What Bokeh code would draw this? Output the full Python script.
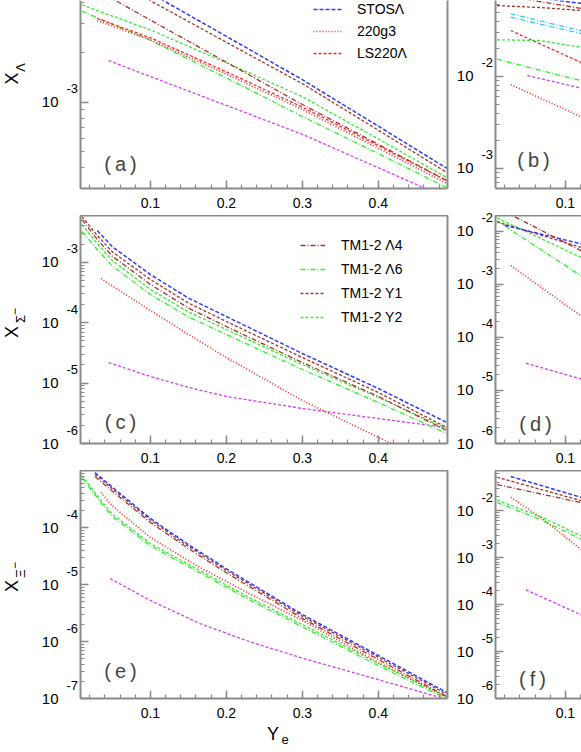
import math
from bokeh.plotting import figure
from bokeh.models import FixedTicker, LinearAxis, Label, Legend, LegendItem, Range1d
from bokeh.core.properties import value
from bokeh.layouts import column, row
from bokeh.embed import file_html
from bokeh.resources import INLINE

# ---------------- data ----------------
X_TICKS = [0.1, 0.2, 0.3, 0.4]
X_MINOR = [round(0.02 * i, 2) for i in range(1, 25)]
Y_MINOR = [m * 10.0 ** e for e in range(-8, 0) for m in range(2, 10)]
Y_TICK_BASE = "10"

A_YTICKS = [1e-3]
B_YTICKS = [1e-3, 1e-2]
C_YTICKS = [1e-6, 1e-5, 1e-4, 1e-3]
D_YTICKS = [1e-6, 1e-5, 1e-4, 1e-3, 1e-2]
E_YTICKS = [1e-7, 1e-6, 1e-5, 1e-4]
F_YTICKS = [1e-6, 1e-5, 1e-4, 1e-3, 1e-2]

# panel (a)  X_Lambda
A_YE_30 = [0.03, 0.1, 0.2, 0.3, 0.4, 0.49]
A_YE_10 = [0.01, 0.1, 0.2, 0.3, 0.4, 0.49]
A_YE_45 = [0.045, 0.1, 0.2, 0.3, 0.4, 0.49]
A_BLUE = [6.8e-3, 4.58e-3, 2.51e-3, 1.37e-3, 7.16e-4, 3.98e-4]
A_Y1 = [6.87e-3, 4.13e-3, 2.31e-3, 1.296e-3, 6.77e-4, 3.75e-4]
A_L4 = [5.38e-3, 3.15e-3, 1.747e-3, 9.69e-4, 5.56e-4, 3.35e-4]
A_Y2 = [3.89e-3, 2.746e-3, 1.736e-3, 1.082e-3, 5.99e-4, 3.50e-4]
A_L6 = [3.56e-3, 2.376e-3, 1.404e-3, 8.20e-4, 4.88e-4, 3.04e-4]
A_G3 = [3.13e-3, 2.39e-3, 1.481e-3, 9.04e-4, 5.26e-4, 3.22e-4]
A_LS = [3.22e-3, 2.46e-3, 1.53e-3, 9.35e-4, 5.45e-4, 3.35e-4]
A_MAG = [1.79e-3, 1.432e-3, 9.57e-4, 6.39e-4, 4.01e-4, 2.63e-4]

# panel (b)
B_BLUE_YE = [0.03, 0.09, 0.125]
B_BLUE = [0.0773, 0.0670, 0.0618]
B_L4_YE = [0.01, 0.058, 0.125]
B_L4 = [0.0780, 0.0670, 0.0542]
B_Y1_YE = [0.01, 0.067, 0.125]
B_Y1 = [0.0590, 0.0562, 0.0519]
B_CY_YE = [0.028, 0.125]
B_CY1 = [0.0480, 0.0309]
B_CY2 = [0.0441, 0.0287]
B_LS_YE = [0.028, 0.125]
B_LS = [0.0316, 0.01368]
B_Y2_YE = [0.01, 0.067, 0.125]
B_Y2 = [0.0251, 0.0246, 0.0205]
B_L6_YE = [0.01, 0.125]
B_L6 = [0.01543, 0.00882]
B_MAG_YE = [0.05, 0.125]
B_MAG = [0.01025, 0.00733]
B_G3_YE = [0.028, 0.125]
B_G3 = [0.00818, 0.00351]

# panel (c)  X_Sigma-
C_YE = [0.01, 0.03, 0.05, 0.1, 0.15, 0.2, 0.3, 0.4, 0.49]
C_Y1 = [5.73e-3, 2.78e-3, 1.49e-3, 5.19e-4, 2.12e-4, 1.047e-4, 2.65e-5, 6.99e-6, 1.84e-6]
C_L4 = [5.11e-3, 2.385e-3, 1.26e-3, 4.29e-4, 1.75e-4, 8.65e-5, 2.19e-5, 6.00e-6, 1.64e-6]
C_Y2 = [4.22e-3, 2.048e-3, 1.07e-3, 3.55e-4, 1.51e-4, 7.72e-5, 2.03e-5, 5.78e-6, 1.77e-6]
C_L6 = [3.24e-3, 1.628e-3, 8.63e-4, 2.93e-4, 1.247e-4, 6.38e-5, 1.68e-5, 4.77e-6, 1.46e-6]
C_BLUE_YE = [0.03, 0.05, 0.1, 0.15, 0.2, 0.3, 0.4, 0.49]
C_BLUE = [3.36e-3, 1.81e-3, 6.28e-4, 2.56e-4, 1.266e-4, 3.09e-5, 8.14e-6, 2.23e-6]
C_G3_YE = [0.035, 0.05, 0.1, 0.15, 0.2, 0.3, 0.41, 0.49]
C_G3 = [5.39e-4, 4.06e-4, 1.59e-4, 6.41e-5, 2.65e-5, 5.15e-6, 1.1e-6, 4.0e-7]
C_MAG_YE = [0.045, 0.1, 0.15, 0.2, 0.3, 0.4, 0.49]
C_MAG = [2.19e-5, 1.286e-5, 8.49e-6, 6.00e-6, 3.80e-6, 2.59e-6, 1.84e-6]

# panel (d)
D_L4_YE = [0.01, 0.03, 0.125]
D_L4 = [0.0281, 0.0200, 0.00403]
D_Y2_YE = [0.01, 0.125]
D_Y2 = [0.0180, 0.00304]
D_BLUE_YE = [0.02, 0.125]
D_BLUE = [0.0131, 0.00563]
D_Y1_YE = [0.01, 0.125]
D_Y1 = [0.0152, 0.0048]
D_L6_YE = [0.01, 0.125]
D_L6 = [0.0159, 0.00132]
D_G3_YE = [0.028, 0.125]
D_G3 = [0.00228, 2.30e-4]
D_MAG_YE = [0.048, 0.125]
D_MAG = [3.27e-5, 1.58e-5]

# panel (e)  X_Xi-
E_TOP_YE = [0.027, 0.05, 0.1, 0.15, 0.2, 0.3, 0.4, 0.49]
E_BLUE = [9.23e-4, 5.09e-4, 1.439e-4, 5.01e-5, 1.884e-5, 2.98e-6, 5.68e-7, 1.274e-7]
E_Y1 = [8.61e-4, 4.75e-4, 1.343e-4, 4.68e-5, 1.758e-5, 2.78e-6, 5.30e-7, 1.189e-7]
E_L4 = [7.85e-4, 4.34e-4, 1.225e-4, 4.27e-5, 1.603e-5, 2.54e-6, 4.83e-7, 1.084e-7]
E_G3_YE = [0.035, 0.05, 0.1, 0.165, 0.23, 0.3, 0.395, 0.49]
E_G3 = [4.11e-4, 2.38e-4, 6.68e-5, 1.99e-5, 6.95e-6, 2.34e-6, 4.64e-7, 1.04e-7]
E_GR_YE = [0.01, 0.035, 0.05, 0.1, 0.165, 0.23, 0.3, 0.395, 0.49]
E_Y2 = [8.15e-4, 2.98e-4, 1.71e-4, 5.24e-5, 1.76e-5, 5.92e-6, 1.99e-6, 4.46e-7, 1.08e-7]
E_L6 = [7.43e-4, 2.72e-4, 1.56e-4, 4.78e-5, 1.61e-5, 5.40e-6, 1.81e-6, 4.07e-7, 9.85e-8]
E_MAG_YE = [0.047, 0.1, 0.165, 0.23, 0.3, 0.395, 0.49]
E_MAG = [1.27e-5, 5.24e-6, 2.07e-6, 1.0e-6, 5.1e-7, 2.24e-7, 9.6e-8]

# panel (f)
F_BLUE_YE = [0.028, 0.125]
F_BLUE = [0.0529, 0.0182]
F_Y1_YE = [0.01, 0.125]
F_Y1 = [0.0511, 0.0155]
F_L4_YE = [0.01, 0.125]
F_L4 = [0.0357, 0.0142]
F_G3_YE = [0.028, 0.067, 0.125]
F_G3 = [0.0192, 0.0072, 0.00131]
F_GR_YE = [0.01, 0.067, 0.125]
F_Y2 = [0.0166, 0.00746, 0.00268]
F_L6 = [0.0148, 0.00643, 0.00228]
F_MAG_YE = [0.048, 0.125]
F_MAG = [2.055e-4, 5.6e-5]

# ---------------- styles ----------------
FONT = "Liberation Sans"
AXIS_COLOR = "#8a8a8a"
STYLES = {
    "blue": ("#2f3cff", "4 2", 1.5),
    "L4": ("#a8322d", "5 2 1 2", 1.3),
    "Y1": ("#a8322d", "3 2", 1.3),
    "L6": ("#2ef02e", "5 2 1 2", 1.3),
    "Y2": ("#2ef02e", "3 2", 1.3),
    "g3": ("#ff2626", "1 2", 1.7),
    "LS": ("#ff2626", "3 2", 1.3),
    "mag": ("#d43cf2", "3 2", 1.3),
    "cyan": ("#3cc8ff", "5 2 1 2", 1.3),
}

X_START = 0.008
X_END_LEFT = 0.491
X_END_RIGHT = 0.1212
HALF = math.pi / 2

# widths of the four columns and frame heights
LL_W, PL_W, RL_W, PR_W = 78, 373, 42, 88
FRAME_A, FRAME = 188, 228


def style_axis(ax, standoff, size):
    ax.axis_line_color = AXIS_COLOR
    ax.axis_line_width = 2
    ax.major_tick_line_color = AXIS_COLOR
    ax.minor_tick_line_color = AXIS_COLOR
    ax.major_tick_line_width = 1.5
    ax.minor_tick_line_width = 1.2
    ax.major_tick_in = 8
    ax.major_tick_out = 0
    ax.minor_tick_in = 4
    ax.minor_tick_out = 0
    ax.major_label_text_font = FONT
    ax.major_label_text_font_size = size
    ax.major_label_text_color = "black"
    ax.major_label_standoff = standoff


def edge(p, side):
    ax = LinearAxis(ticker=FixedTicker(ticks=[]), axis_line_color=AXIS_COLOR, axis_line_width=2,
                    major_tick_line_color=None, minor_tick_line_color=None,
                    major_label_text_font_size="10px", major_label_standoff=0,
                    major_tick_out=0, major_tick_in=0, minor_tick_out=0, minor_tick_in=0)
    p.add_layout(ax, side)


def panel(x_end, y_lo, y_hi, width, height, mbr, mbb, yticks):
    p = figure(width=width, height=height, x_range=Range1d(X_START, x_end),
               y_range=Range1d(y_lo, y_hi), y_axis_type="log", output_backend="svg",
               toolbar_location=None, min_border_left=2, min_border_right=mbr,
               min_border_top=0, min_border_bottom=mbb, outline_line_color=None,
               background_fill_color="white", border_fill_color="white")
    p.grid.visible = False
    xa = p.xaxis[0]
    ya = p.yaxis[0]
    xa.ticker = FixedTicker(ticks=X_TICKS, minor_ticks=X_MINOR)
    ya.ticker = FixedTicker(ticks=yticks, minor_ticks=Y_MINOR)
    style_axis(xa, 9, "14px")
    style_axis(ya, 0, "10px")
    # the y tick labels are drawn in the strip beside the panel (same scale)
    ya.major_label_overrides = {t: "" for t in yticks}
    return p


def label_fig(width, height, y_lo, y_hi, frame_h, top_ext, bot_ext, yticks, x_base, x_exp):
    """Strip left of a panel that shares the panel's log scale (extended by a few pixels),
    carrying the y tick labels of that panel as text."""
    per_px = (math.log10(y_hi) - math.log10(y_lo)) / frame_h
    y0 = 10 ** (math.log10(y_lo) - bot_ext * per_px)
    y1 = 10 ** (math.log10(y_hi) + top_ext * per_px)
    p = figure(width=width, height=height, x_range=Range1d(0, width), y_range=Range1d(y0, y1),
               y_axis_type="log", x_axis_location=None, y_axis_location=None,
               output_backend="svg", toolbar_location=None, min_border=0,
               outline_line_color=None, background_fill_color="white",
               border_fill_color="white")
    p.grid.visible = False
    exps = [str(int(round(math.log10(t)))) for t in yticks]
    p.text(x=[x_base] * len(yticks), y=yticks, text=[Y_TICK_BASE] * len(yticks),
           text_font=value(FONT), text_font_size="15px", text_align="right",
           text_baseline="middle", text_color="black")
    p.text(x=[x_exp] * len(yticks), y=yticks, text=exps, text_font=value(FONT),
           text_font_size="13px", text_align="right", text_baseline="middle",
           text_color="black", y_offset=-13.5)
    return p


def draw(p, key, xs, ys):
    c, d, w = STYLES[key]
    return p.line(xs, ys, line_color=c, line_dash=d, line_width=w)


def text(p, x, y, t, size, angle=0.0, color="black"):
    p.add_layout(Label(x=x, y=y, x_units="screen", y_units="screen", text=t, text_font=FONT,
                       text_font_size=f"{size}px", text_color=color, text_align="center",
                       text_baseline="middle", angle=angle))


def legend(items, loc, lh, gw, stand, spacing):
    return Legend(items=items, location=loc, orientation="vertical", padding=0, margin=0,
                  spacing=spacing, label_height=lh, glyph_height=lh, glyph_width=gw,
                  label_standoff=stand, border_line_color=None, background_fill_alpha=0,
                  label_text_font=FONT, label_text_font_size="14px", label_text_color="black")


# y ranges of the six panels
A_RANGE = (3e-4, 4.14e-3)
B_RANGE = (6.06e-4, 0.067)
C_RANGE = (1e-6, 5.96e-3)
D_RANGE = (1e-6, 0.02)
E_RANGE = (1e-7, 1e-3)
F_RANGE = (1e-6, 0.071)

# ---- (a) ----
pa = panel(X_END_LEFT, *A_RANGE, PL_W, FRAME_A + 27, 4, 27, A_YTICKS)
edge(pa, "right")
draw(pa, "mag", A_YE_45, A_MAG)
draw(pa, "L6", A_YE_10, A_L6)
draw(pa, "Y2", A_YE_10, A_Y2)
draw(pa, "L4", A_YE_10, A_L4)
draw(pa, "Y1", A_YE_10, A_Y1)
ra_ls = draw(pa, "LS", A_YE_30, A_LS)
ra_g3 = draw(pa, "g3", A_YE_30, A_G3)
ra_blue = draw(pa, "blue", A_YE_30, A_BLUE)
pa.add_layout(legend([LegendItem(label="STOSΛ", renderers=[ra_blue]),
                      LegendItem(label="220g3", renderers=[ra_g3]),
                      LegendItem(label="LS220Λ", renderers=[ra_ls])],
                     (233, 126), 18, 29, 15, 4))
text(pa, 40, 25, "(\u2009a\u2009)", 20, color="#444444")

# ---- (b) ----
pb = panel(X_END_RIGHT, *B_RANGE, PR_W, FRAME_A + 27, 0, 27, B_YTICKS)
draw(pb, "g3", B_G3_YE, B_G3)
draw(pb, "mag", B_MAG_YE, B_MAG)
draw(pb, "L6", B_L6_YE, B_L6)
draw(pb, "Y2", B_Y2_YE, B_Y2)
draw(pb, "LS", B_LS_YE, B_LS)
draw(pb, "cyan", B_CY_YE, B_CY2)
draw(pb, "cyan", B_CY_YE, B_CY1)
draw(pb, "Y1", B_Y1_YE, B_Y1)
draw(pb, "L4", B_L4_YE, B_L4)
draw(pb, "blue", B_BLUE_YE, B_BLUE)
text(pb, 38, 29, "(\u2009b\u2009)", 20, color="#444444")

# ---- (c) ----
pc = panel(X_END_LEFT, *C_RANGE, PL_W, FRAME + 27, 4, 27, C_YTICKS)
edge(pc, "right")
edge(pc, "above")
draw(pc, "mag", C_MAG_YE, C_MAG)
draw(pc, "g3", C_G3_YE, C_G3)
rc_l6 = draw(pc, "L6", C_YE, C_L6)
rc_y2 = draw(pc, "Y2", C_YE, C_Y2)
rc_l4 = draw(pc, "L4", C_YE, C_L4)
rc_y1 = draw(pc, "Y1", C_YE, C_Y1)
draw(pc, "blue", C_BLUE_YE, C_BLUE)
pc.add_layout(legend([LegendItem(label="TM1-2 Λ4", renderers=[rc_l4]),
                      LegendItem(label="TM1-2 Λ6", renderers=[rc_l6]),
                      LegendItem(label="TM1-2 Y1", renderers=[rc_y1]),
                      LegendItem(label="TM1-2 Y2", renderers=[rc_y2])],
                     (220, 116), 20, 25, 16, 4))
text(pc, 40, 22, "(\u2009c\u2009)", 20, color="#444444")

# ---- (d) ----
pd_ = panel(X_END_RIGHT, *D_RANGE, PR_W, FRAME + 27, 0, 27, D_YTICKS)
edge(pd_, "above")
draw(pd_, "mag", D_MAG_YE, D_MAG)
draw(pd_, "g3", D_G3_YE, D_G3)
draw(pd_, "L6", D_L6_YE, D_L6)
draw(pd_, "Y2", D_Y2_YE, D_Y2)
draw(pd_, "Y1", D_Y1_YE, D_Y1)
draw(pd_, "blue", D_BLUE_YE, D_BLUE)
draw(pd_, "L4", D_L4_YE, D_L4)
text(pd_, 40, 20, "(\u2009d\u2009)", 20, color="#444444")

# ---- (e) ----
pe = panel(X_END_LEFT, *E_RANGE, PL_W, FRAME + 27, 4, 27, E_YTICKS)
edge(pe, "right")
edge(pe, "above")
draw(pe, "mag", E_MAG_YE, E_MAG)
draw(pe, "L6", E_GR_YE, E_L6)
draw(pe, "Y2", E_GR_YE, E_Y2)
draw(pe, "g3", E_G3_YE, E_G3)
draw(pe, "L4", E_TOP_YE, E_L4)
draw(pe, "Y1", E_TOP_YE, E_Y1)
draw(pe, "blue", E_TOP_YE, E_BLUE)
text(pe, 40, 28, "(\u2009e\u2009)", 20, color="#444444")

# ---- (f) ----
pf = panel(X_END_RIGHT, *F_RANGE, PR_W, FRAME + 54, 0, 54, F_YTICKS)
edge(pf, "above")
draw(pf, "mag", F_MAG_YE, F_MAG)
draw(pf, "L6", F_GR_YE, F_L6)
draw(pf, "Y2", F_GR_YE, F_Y2)
draw(pf, "g3", F_G3_YE, F_G3)
draw(pf, "L4", F_L4_YE, F_L4)
draw(pf, "Y1", F_Y1_YE, F_Y1)
draw(pf, "blue", F_BLUE_YE, F_BLUE)
text(pf, 37, 20, "(\u2009f\u2009)", 20, color="#444444")

# strip under (e) carrying the x-axis title Y_e
strip = figure(width=PL_W, height=27, x_range=Range1d(0, 1), y_range=Range1d(0, 1),
               x_axis_location=None, y_axis_location=None, output_backend="svg",
               toolbar_location=None, min_border=0, outline_line_color=None)
strip.grid.visible = False
text(strip, 192.5, 18.5, "Y", 18)
text(strip, 204.5, 13, "e", 13)

# ---- tick-label strips (share each panel's log scale) ----
la = label_fig(LL_W, 209, *A_RANGE, FRAME_A, 0, 21, A_YTICKS, 58, 77.5)
lc = label_fig(LL_W, 255, *C_RANGE, FRAME, 6, 21, C_YTICKS, 58, 77.5)
le = label_fig(LL_W, 288, *E_RANGE, FRAME, 6, 54, E_YTICKS, 58, 77.5)
lb = label_fig(RL_W, 209, *B_RANGE, FRAME_A, 0, 21, B_YTICKS, 22, 41.5)
ld = label_fig(RL_W, 255, *D_RANGE, FRAME, 6, 21, D_YTICKS, 22, 41.5)
lf = label_fig(RL_W, 288, *F_RANGE, FRAME, 6, 54, F_YTICKS, 22, 41.5)

# y-axis titles
text(la, 11.5, 131, "X", 18, HALF)
text(la, 20, 142, "Λ", 13, HALF)
text(lc, 11.5, 132.5, "X", 18, HALF)
text(lc, 19.5, 145.5, "Σ", 13, HALF)
text(lc, 14, 153, "\u2212", 12, HALF)
text(le, 11.5, 166.5, "X", 18, HALF)
text(le, 19.5, 179, "Ξ", 13, HALF)
text(le, 14, 187, "\u2212", 12, HALF)

layout = row(column(la, lc, le), column(pa, pc, pe, strip),
             column(lb, ld, lf), column(pb, pd_, pf))
open("out.html", "w").write(file_html(layout, INLINE, title="plot"))
